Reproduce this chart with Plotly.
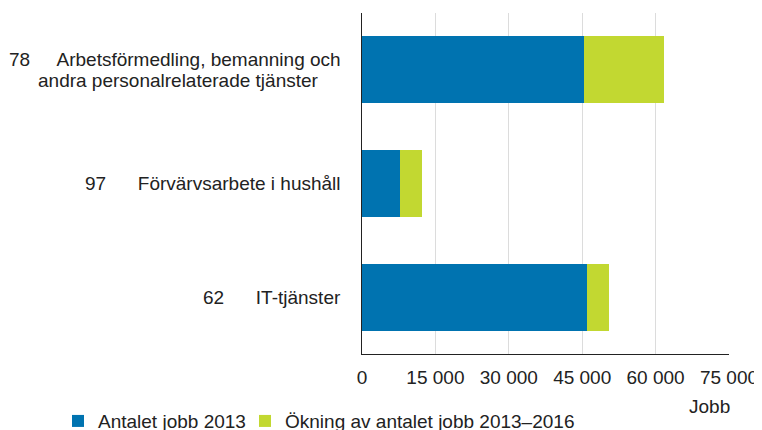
import plotly.graph_objects as go

# Data (top-to-bottom order)
codes = ["78", "97", "62"]
names = [["Arbetsförmedling, bemanning och", "andra personalrelaterade tjänster"],
         ["Förvärvsarbete i hushåll"],
         ["IT-tjänster"]]
jobs_2013 = [45400, 7800, 46000]
increase_2013_2016 = [16300, 4500, 4500]
x_tickvals = [0, 15000, 30000, 45000, 60000, 75000]
x_ticktext = ["0", "15 000", "30 000", "45 000", "60 000", "75 000"]
series_names = ["Antalet jobb 2013", "Ökning av antalet jobb 2013–2016"]

FONT = "Liberation Sans, Arial, sans-serif"
FS = 19
TXT = "#222222"
BLUE = "#0073b0"
GREEN = "#c2d831"

# page has an 8px body margin; figure is sized so the page matches the reference
W, H = 754, 422

fig = go.Figure()
fig.add_trace(go.Bar(y=codes, x=jobs_2013, orientation="h", name=series_names[0],
                     marker=dict(color=BLUE, line=dict(width=0)), legend="legend"))
fig.add_trace(go.Bar(y=codes, x=increase_2013_2016, orientation="h", name=series_names[1],
                     marker=dict(color=GREEN, line=dict(width=0)), legend="legend2"))

NB = "\u00a0"
for i, (code, lines) in enumerate(zip(codes, names)):
    if len(lines) == 2:
        fig.add_annotation(x=0, xref="paper", y=i, yref="y", text=code + NB * 5 + lines[0],
                           showarrow=False, xanchor="right", yanchor="middle", xshift=-19, yshift=10.5,
                           font=dict(family=FONT, size=FS, color=TXT))
        fig.add_annotation(x=0, xref="paper", y=i, yref="y", text=lines[1],
                           showarrow=False, xanchor="center", yanchor="middle", xshift=-184, yshift=-10.5,
                           font=dict(family=FONT, size=FS, color=TXT))
    else:
        fig.add_annotation(x=0, xref="paper", y=i, yref="y", text=code + NB * 6 + lines[0],
                           showarrow=False, xanchor="right", yanchor="middle", xshift=-19,
                           font=dict(family=FONT, size=FS, color=TXT))

fig.add_annotation(x=75000, xref="x", y=-0.155, yref="paper", text="Jobb", showarrow=False,
                   xanchor="right", yanchor="middle", xshift=3,
                   font=dict(family=FONT, size=FS, color=TXT))

leg_common = dict(orientation="h", xref="container", yref="paper",
                  xanchor="left", yanchor="top", itemwidth=30,
                  font=dict(family=FONT, size=FS, color=TXT), bgcolor="rgba(0,0,0,0)")

fig.update_layout(
    width=W, height=H,
    barmode="stack", bargap=0.41,
    paper_bgcolor="white", plot_bgcolor="white",
    margin=dict(l=354, r=33, t=5, b=76, autoexpand=False),
    font=dict(family=FONT, size=FS, color=TXT),
    showlegend=True,
    legend=dict(x=50 / W, y=-0.141, **leg_common),
    legend2=dict(x=237 / W, y=-0.141, **leg_common),
    xaxis=dict(range=[0, 75000], tickvals=x_tickvals, ticktext=x_ticktext,
               showgrid=True, gridcolor="#dcdcdc", gridwidth=1,
               showline=True, linecolor="#222222", linewidth=1.3,
               zeroline=False, ticks="", ticklabelstandoff=6,
               tickfont=dict(family=FONT, size=FS, color=TXT)),
    yaxis=dict(type="category", categoryorder="array", categoryarray=codes,
               range=[2.5, -0.5], autorange=False, showticklabels=False, showgrid=False,
               showline=True, linecolor="#222222", linewidth=1.3, ticks="",
               zeroline=False),
)

fig.write_html("out.html")
